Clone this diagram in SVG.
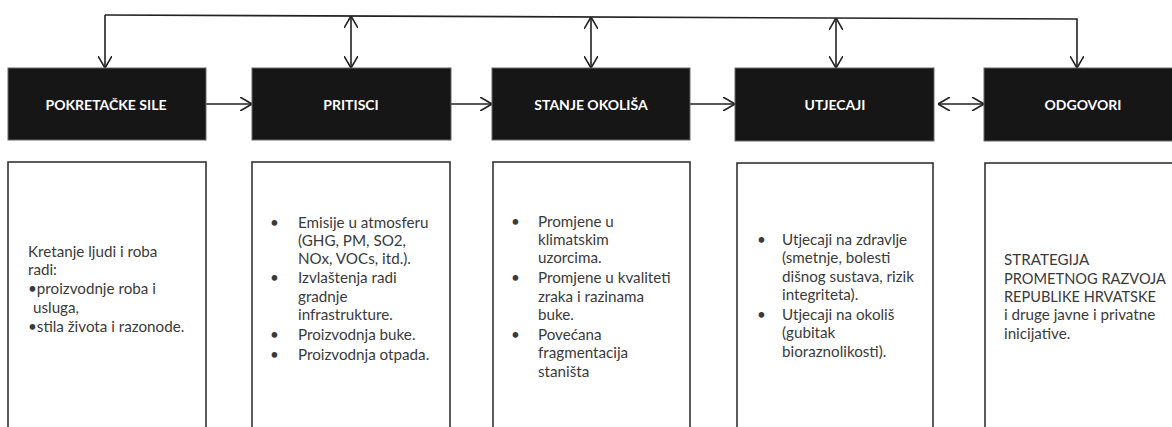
<svg xmlns="http://www.w3.org/2000/svg" width="1172" height="427" viewBox="0 0 1172 427">
<style>
.hdr{fill:#161616;stroke:#666;stroke-width:1}
.hl{fill:#fff;font-family:Lato,"Open Sans",sans-serif;font-weight:bold;font-size:14px;text-anchor:middle}
.box{fill:#fff;stroke:#333;stroke-width:1.6}
.t{fill:#3a3a3a;font-family:Lato,"Open Sans",sans-serif;font-size:15.2px}
.c{fill:none;stroke:#222;stroke-width:1.6}
</style>
<defs>
<marker id="ah" viewBox="0 0 12 14" refX="12" refY="7" markerWidth="12" markerHeight="14" markerUnits="userSpaceOnUse" orient="auto-start-reverse">
<path d="M0,0 L12,7 L0,14" fill="none" stroke="#222" stroke-width="1.6"/>
</marker>
</defs>
<rect width="1172" height="427" fill="#fff"/>
<g id="connectors">
<polyline class="c" points="105,15 1077,19 1077,68" marker-end="url(#ah)"/>
<line class="c" x1="105" y1="15" x2="105" y2="68" marker-end="url(#ah)"/>
<line class="c" x1="351" y1="16" x2="351" y2="68" marker-start="url(#ah)" marker-end="url(#ah)"/>
<line class="c" x1="591" y1="17" x2="591" y2="68" marker-start="url(#ah)" marker-end="url(#ah)"/>
<line class="c" x1="836" y1="18" x2="836" y2="68" marker-start="url(#ah)" marker-end="url(#ah)"/>
<line class="c" x1="206" y1="104" x2="252" y2="104" marker-end="url(#ah)"/>
<line class="c" x1="451" y1="104" x2="492" y2="104" marker-end="url(#ah)"/>
<line class="c" x1="690" y1="104" x2="735" y2="104" marker-end="url(#ah)"/>
<line class="c" x1="938" y1="104" x2="984" y2="104" marker-start="url(#ah)" marker-end="url(#ah)"/>
</g>
<g id="n1">
<rect class="hdr" x="8" y="68" width="198" height="72"/>
<text class="hl" x="106" y="110">POKRETAČKE SILE</text>
</g>
<g id="n2">
<rect class="hdr" x="252" y="68" width="199" height="72"/>
<text class="hl" x="351" y="110">PRITISCI</text>
</g>
<g id="n3">
<rect class="hdr" x="492" y="68" width="198" height="72"/>
<text class="hl" x="591" y="110">STANJE OKOLIŠA</text>
</g>
<g id="n4">
<rect class="hdr" x="735" y="68" width="199" height="73"/>
<text class="hl" x="835" y="110">UTJECAJI</text>
</g>
<g id="n5">
<rect class="hdr" x="984" y="68" width="198" height="73"/>
<text class="hl" x="1083" y="110">ODGOVORI</text>
</g>
<g id="b1">
<rect class="box" x="8" y="162" width="198" height="280"/>
<text class="t" x="28" y="257">Kretanje ljudi i roba</text>
<text class="t" x="28" y="275">radi:</text>
<text class="t" x="28" y="294">•proizvodnje roba i</text>
<text class="t" x="33" y="313">usluga,</text>
<text class="t" x="28" y="332">•stila života i razonode.</text>
</g>
<g id="b2">
<rect class="box" x="252" y="162" width="198" height="280"/>
<text class="t" x="270" y="228">•</text><text class="t" x="298" y="228">Emisije u atmosferu</text>
<text class="t" x="298" y="246">(GHG, PM, SO2,</text>
<text class="t" x="298" y="264">NOx, VOCs, itd.).</text>
<text class="t" x="270" y="283">•</text><text class="t" x="298" y="283">Izvlaštenja radi</text>
<text class="t" x="298" y="302">gradnje</text>
<text class="t" x="298" y="320">infrastrukture.</text>
<text class="t" x="270" y="340">•</text><text class="t" x="298" y="340">Proizvodnja buke.</text>
<text class="t" x="270" y="360">•</text><text class="t" x="298" y="360">Proizvodnja otpada.</text>
</g>
<g id="b3">
<rect class="box" x="493" y="162" width="197" height="280"/>
<text class="t" x="511" y="227">•</text><text class="t" x="538" y="227">Promjene u</text>
<text class="t" x="538" y="245">klimatskim</text>
<text class="t" x="538" y="263">uzorcima.</text>
<text class="t" x="511" y="283">•</text><text class="t" x="538" y="283">Promjene u kvaliteti</text>
<text class="t" x="538" y="302">zraka i razinama</text>
<text class="t" x="538" y="320">buke.</text>
<text class="t" x="511" y="340">•</text><text class="t" x="538" y="340">Povećana</text>
<text class="t" x="538" y="358">fragmentacija</text>
<text class="t" x="538" y="377">staništa</text>
</g>
<g id="b4">
<rect class="box" x="737" y="163" width="196" height="280"/>
<text class="t" x="757" y="245">•</text><text class="t" x="782" y="245">Utjecaji na zdravlje</text>
<text class="t" x="782" y="263">(smetnje, bolesti</text>
<text class="t" x="782" y="282">dišnog sustava, rizik</text>
<text class="t" x="782" y="300">integriteta).</text>
<text class="t" x="757" y="320">•</text><text class="t" x="782" y="320">Utjecaji na okoliš</text>
<text class="t" x="782" y="338">(gubitak</text>
<text class="t" x="782" y="357">bioraznolikosti).</text>
</g>
<g id="b5">
<rect class="box" x="985" y="163" width="200" height="280"/>
<text class="t" x="1004" y="265">STRATEGIJA</text>
<text class="t" x="1004" y="284" textLength="162" lengthAdjust="spacingAndGlyphs">PROMETNOG RAZVOJA</text>
<text class="t" x="1004" y="302" textLength="152" lengthAdjust="spacingAndGlyphs">REPUBLIKE HRVATSKE</text>
<text class="t" x="1004" y="320">i druge javne i privatne</text>
<text class="t" x="1004" y="339">inicijative.</text>
</g>
</svg>
